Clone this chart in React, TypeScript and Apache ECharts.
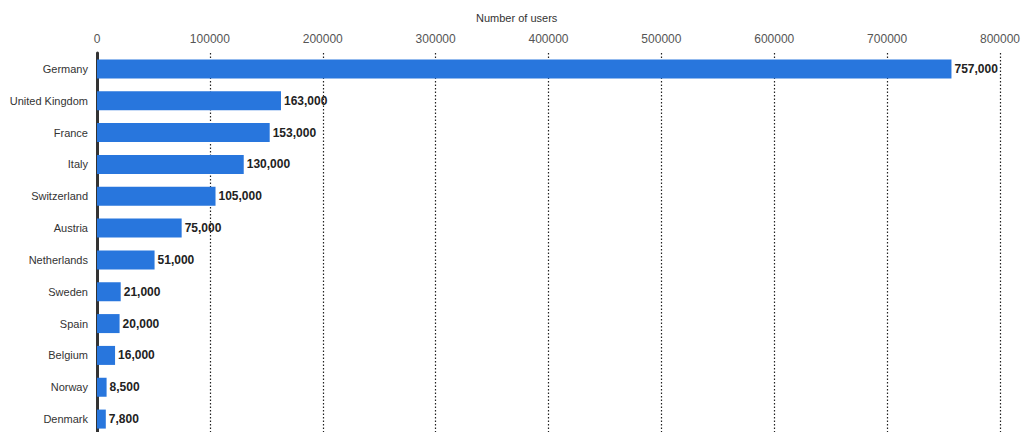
import React, { useEffect, useRef } from "react";
import * as echarts from "echarts";

const countries = [
  "Germany",
  "United Kingdom",
  "France",
  "Italy",
  "Switzerland",
  "Austria",
  "Netherlands",
  "Sweden",
  "Spain",
  "Belgium",
  "Norway",
  "Denmark",
];
const users = [757000, 163000, 153000, 130000, 105000, 75000, 51000, 21000, 20000, 16000, 8500, 7800];
const axisTitle = "Number of users";

export default function App() {
  const ref = useRef<HTMLDivElement>(null);
  useEffect(() => {
    if (!ref.current) return;
    const chart = echarts.init(ref.current, null, { renderer: "svg" });
    chart.setOption({
      animation: false,
      textStyle: { fontFamily: "Liberation Sans, Arial, sans-serif" },
      title: {
        text: axisTitle,
        left: 476,
        top: 12,
        padding: 0,
        textStyle: { fontSize: 11, fontWeight: "normal", color: "#333" },
      },
      grid: { left: 97, right: 21, top: 53, height: 382, outerBoundsMode: "none", containLabel: false },
      xAxis: {
        type: "value",
        position: "top",
        min: 0,
        max: 800000,
        interval: 100000,
        axisLine: { show: false },
        axisTick: { show: false },
        axisLabel: { fontSize: 12, color: "#555", margin: 8, formatter: (v: number) => String(v) },
        splitLine: { show: true, lineStyle: { type: [1.5, 2], color: "#222", width: 1.2 } },
      },
      yAxis: {
        type: "category",
        inverse: true,
        data: countries,
        axisLine: { show: true, lineStyle: { color: "#333", width: 3 } },
        axisTick: { show: false },
        axisLabel: { fontSize: 11, color: "#333", margin: 9 },
      },
      series: [
        {
          type: "bar",
          data: users,
          barWidth: 19,
          itemStyle: { color: "#2876dd" },
          label: {
            show: true,
            position: "right",
            distance: 3,
            fontSize: 12,
            fontWeight: "bold",
            color: "#222",
            formatter: (p: any) => Number(p.value).toLocaleString("en-US"),
          },
        },
      ],
    });
    return () => chart.dispose();
  }, []);
  return (
    <div
      ref={ref}
      style={{ position: "absolute", left: 0, top: 0, width: 1021, height: 432 }}
    />
  );
}
